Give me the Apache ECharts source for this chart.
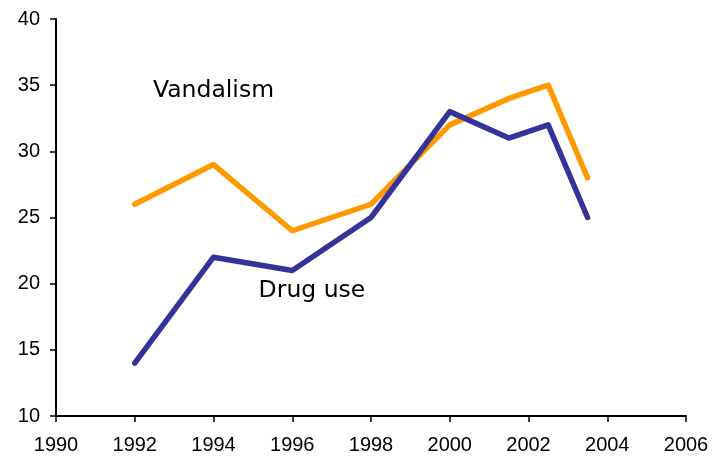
<!DOCTYPE html>
<html>
<head>
<meta charset="utf-8">
<script src="https://cdn.jsdelivr.net/npm/echarts@6/dist/echarts.min.js"></script>
<style>
  html, body { margin: 0; padding: 0; background: #fff; }
  #chart { width: 713px; height: 456px; }
</style>
</head>
<body>
<div id="chart"></div>
<script>
const years = [1992, 1994, 1996, 1998, 2000, 2001.5, 2002.5, 2003.5];
const vandalism = [26, 29, 24, 26, 32, 34, 35, 28];
const drugUse = [14, 22, 21, 25, 33, 31, 32, 25];

document.addEventListener("DOMContentLoaded", () => {
    const font = 'Arial, "Liberation Sans", sans-serif';
    const labelFont = '"DejaVu Sans", Verdana, sans-serif';
    const pairs = (vals) => years.map((y, i) => [y, vals[i]]);

    echarts.init(document.querySelector("#chart")).setOption({
        animation: false,
        textStyle: { fontFamily: font },
        grid: { left: 56, right: 27, top: 19, bottom: 40 },
        xAxis: {
            type: 'value',
            min: 1990,
            max: 2006,
            interval: 2,
            splitLine: { show: false },
            axisLine: { lineStyle: { color: '#000', width: 2 } },
            axisTick: { length: 6, lineStyle: { color: '#000', width: 1.5 } },
            axisLabel: { color: '#000', fontSize: 20, fontFamily: font, margin: 19, formatter: (v) => String(v) }
        },
        yAxis: {
            type: 'value',
            min: 10,
            max: 40,
            interval: 5,
            splitLine: { show: false },
            axisLine: { show: true, lineStyle: { color: '#000', width: 2 } },
            axisTick: { show: true, length: 6, lineStyle: { color: '#000', width: 1.5 } },
            axisLabel: { color: '#000', fontSize: 20, fontFamily: font, margin: 16 }
        },
        series: [
            {
                name: 'Vandalism',
                type: 'line',
                data: pairs(vandalism),
                symbol: 'none',
                lineStyle: { color: '#FF9900', width: 5.5, cap: 'round', join: 'round' },
                markPoint: {
                    symbol: 'circle',
                    symbolSize: 1,
                    itemStyle: { color: 'rgba(0,0,0,0)' },
                    data: [{ coord: [1994, 34.55] }],
                    label: { show: true, position: 'inside', formatter: 'Vandalism', color: '#000', fontSize: 23.5, fontFamily: labelFont }
                }
            },
            {
                name: 'Drug use',
                type: 'line',
                data: pairs(drugUse),
                symbol: 'none',
                lineStyle: { color: '#333399', width: 5.5, cap: 'round', join: 'round' },
                markPoint: {
                    symbol: 'circle',
                    symbolSize: 1,
                    itemStyle: { color: 'rgba(0,0,0,0)' },
                    data: [{ coord: [1996.5, 19.45] }],
                    label: { show: true, position: 'inside', formatter: 'Drug use', color: '#000', fontSize: 23.5, fontFamily: labelFont }
                }
            }
        ]
    });
});
</script>
</body>
</html>
